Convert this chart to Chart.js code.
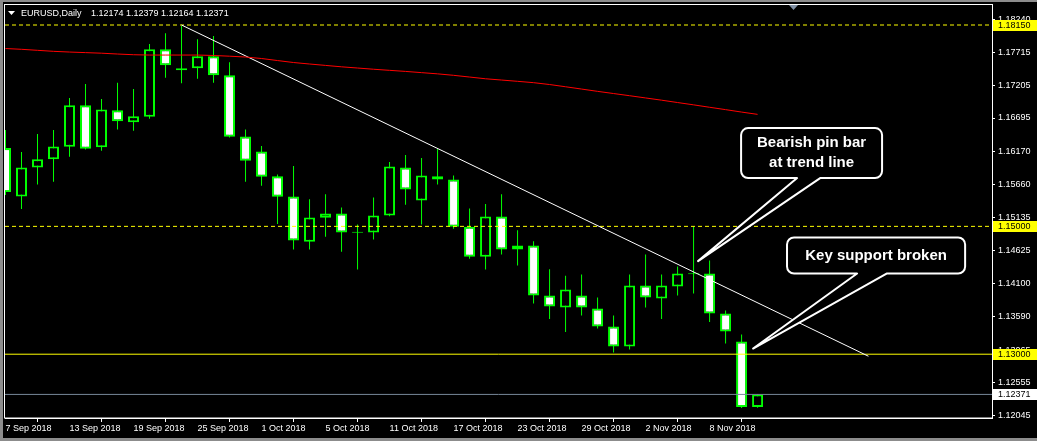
<!DOCTYPE html>
<html>
<head>
<meta charset="utf-8">
<title>EURUSD Daily</title>
<script src="https://cdn.jsdelivr.net/npm/chart.js@4.4.0/dist/chart.umd.min.js"></script>
<style>
  html, body { margin: 0; padding: 0; background: #000; }
  canvas { display: block; }
</style>
</head>
<body>
<canvas id="fx" width="1037" height="441"></canvas>
<script>
// daily candles, 7 Sep .. 13 Nov 2018
const dates = [
  '7 Sep 2018', '10 Sep 2018', '11 Sep 2018', '12 Sep 2018', '13 Sep 2018', '14 Sep 2018',
  '17 Sep 2018', '18 Sep 2018', '19 Sep 2018', '20 Sep 2018', '21 Sep 2018', '24 Sep 2018',
  '25 Sep 2018', '26 Sep 2018', '27 Sep 2018', '28 Sep 2018', '1 Oct 2018', '2 Oct 2018',
  '3 Oct 2018', '4 Oct 2018', '5 Oct 2018', '8 Oct 2018', '9 Oct 2018', '10 Oct 2018',
  '11 Oct 2018', '12 Oct 2018', '15 Oct 2018', '16 Oct 2018', '17 Oct 2018', '18 Oct 2018',
  '19 Oct 2018', '22 Oct 2018', '23 Oct 2018', '24 Oct 2018', '25 Oct 2018', '26 Oct 2018',
  '29 Oct 2018', '30 Oct 2018', '31 Oct 2018', '1 Nov 2018', '2 Nov 2018', '5 Nov 2018',
  '6 Nov 2018', '7 Nov 2018', '8 Nov 2018', '9 Nov 2018', '12 Nov 2018', '13 Nov 2018'
];
const xTickLabels = ['7 Sep 2018', '13 Sep 2018', '19 Sep 2018', '25 Sep 2018', '1 Oct 2018', '5 Oct 2018',
  '11 Oct 2018', '17 Oct 2018', '23 Oct 2018', '29 Oct 2018', '2 Nov 2018', '8 Nov 2018'];

const opens = [
  1.16225, 1.15469, 1.15922, 1.16048, 1.16245, 1.16893, 1.16236, 1.16815, 1.16627, 1.16715, 1.17770, 1.17441,
  1.17472, 1.17660, 1.17363, 1.16405, 1.16173, 1.15782, 1.15469, 1.14758, 1.15133, 1.15202, 1.14900, 1.14905,
  1.15171, 1.15922, 1.15406, 1.15782, 1.15735, 1.14993, 1.14523, 1.15155, 1.14701, 1.14701, 1.13919, 1.13731,
  1.13919, 1.13715, 1.13433, 1.13120, 1.14075, 1.13872, 1.14060, 1.14263, 1.14263, 1.13637, 1.13199, 1.12174
];
const highs = [
  1.16506, 1.16162, 1.16444, 1.16506, 1.17007, 1.17226, 1.16992, 1.17247, 1.17148, 1.17853, 1.18020, 1.18134,
  1.17926, 1.17978, 1.17566, 1.16517, 1.16256, 1.15813, 1.15943, 1.15426, 1.15504, 1.15296, 1.15030, 1.15453,
  1.16005, 1.16115, 1.16068, 1.16209, 1.15797, 1.15281, 1.15348, 1.15504, 1.14941, 1.14769, 1.14330, 1.14226,
  1.14247, 1.13887, 1.13606, 1.14247, 1.14561, 1.14247, 1.14373, 1.14999, 1.14467, 1.13684, 1.13308, 1.12379
];
const lows = [
  1.15489, 1.15270, 1.15656, 1.15697, 1.16088, 1.16204, 1.16182, 1.16517, 1.16495, 1.16683, 1.17325, 1.17237,
  1.17309, 1.17247, 1.16392, 1.15697, 1.15634, 1.15035, 1.14639, 1.14639, 1.14836, 1.14601, 1.14326, 1.14795,
  1.15160, 1.15337, 1.15030, 1.15656, 1.14961, 1.14492, 1.14326, 1.14561, 1.14388, 1.13793, 1.13552, 1.13349,
  1.13606, 1.13402, 1.13026, 1.13073, 1.13731, 1.13552, 1.13919, 1.13950, 1.13505, 1.13167, 1.12159, 1.12164
];
const closes = [
  1.15536, 1.15922, 1.16048, 1.16251, 1.16893, 1.16214, 1.16830, 1.16643, 1.16721, 1.17770, 1.17519, 1.17472,
  1.17660, 1.17363, 1.16401, 1.16026, 1.15775, 1.15462, 1.14780, 1.15140, 1.15202, 1.14905, 1.14910, 1.15171,
  1.15938, 1.15578, 1.15797, 1.15735, 1.14993, 1.14523, 1.15155, 1.14639, 1.14639, 1.13919, 1.13746, 1.14013,
  1.13731, 1.13433, 1.13120, 1.14075, 1.13887, 1.14075, 1.14263, 1.14252, 1.13637, 1.13355, 1.12175, 1.12371
];
// red moving average
const maValues = [
  1.17782, 1.17770, 1.17754, 1.17738, 1.17727, 1.17718, 1.17709, 1.17696, 1.17685, 1.17680, 1.17680, 1.17680,
  1.17680, 1.17673, 1.17662, 1.17649, 1.17626, 1.17594, 1.17563, 1.17540, 1.17518, 1.17496, 1.17477, 1.17458,
  1.17441, 1.17424, 1.17405, 1.17386, 1.17363, 1.17336, 1.17309, 1.17289, 1.17269, 1.17248, 1.17219, 1.17184,
  1.17148, 1.17112, 1.17078, 1.17044, 1.17009, 1.16974, 1.16937, 1.16901, 1.16863, 1.16826, 1.16788, 1.16752
];
const yTicks = [1.18240, 1.17715, 1.17205, 1.16695, 1.16170, 1.15660, 1.15135, 1.14625, 1.14100, 1.13590, 1.13065, 1.12555, 1.12045];
const dashedLevels = [1.18150, 1.15000];
const solidLevels = [1.13000];
const bidPrice = 1.12371;
const trendIdx = [11, 53.93];
const trendPrice = [1.18150, 1.12968];

const notes = [
  { lines: ['Bearish pin bar', 'at trend line'], left: 45.97, right: 54.78, top: 1.16538, bottom: 1.15755,
    tailL: 49.47, tailR: 50.91, tipIdx: 43.28, tipPrice: 1.14456 },
  { lines: ['Key support broken'], left: 48.84, right: 59.97, top: 1.14827, bottom: 1.14263,
    tailL: 53.22, tailR: 55.09, tipIdx: 46.72, tipPrice: 1.13089 }
];

const xMin = -0.03125, xMax = 61.65;
const yMin = 1.12002, yMax = 1.18463;

const GREEN = '#00ff00';
const FONT = "'Liberation Sans', Arial, sans-serif";

const bodies = dates.map((d, i) => ({ x: i, y: [opens[i], closes[i]] }));
const wicks = dates.map((d, i) => ({ x: i, y: [lows[i], highs[i]] }));
const levelLine = (p) => [{ x: xMin, y: p }, { x: xMax, y: p }];

function drawCallout(ctx, x, y, n) {
  const l = x.getPixelForValue(n.left), r = x.getPixelForValue(n.right);
  const t = y.getPixelForValue(n.top), b = y.getPixelForValue(n.bottom);
  const bl = x.getPixelForValue(n.tailL), br = x.getPixelForValue(n.tailR);
  const tx = x.getPixelForValue(n.tipIdx), ty = y.getPixelForValue(n.tipPrice);
  const rad = 7;
  ctx.save();
  ctx.beginPath();
  ctx.moveTo(l + rad, t);
  ctx.lineTo(r - rad, t);
  ctx.arcTo(r, t, r, t + rad, rad);
  ctx.lineTo(r, b - rad);
  ctx.arcTo(r, b, r - rad, b, rad);
  ctx.lineTo(br, b);
  ctx.lineTo(tx, ty);
  ctx.lineTo(bl, b);
  ctx.lineTo(l + rad, b);
  ctx.arcTo(l, b, l, b - rad, rad);
  ctx.lineTo(l, t + rad);
  ctx.arcTo(l, t, l + rad, t, rad);
  ctx.closePath();
  ctx.fillStyle = '#000';
  ctx.fill();
  ctx.lineWidth = 2;
  ctx.strokeStyle = '#fff';
  ctx.lineJoin = 'round';
  ctx.stroke();
  ctx.fillStyle = '#fff';
  ctx.font = 'bold 15px ' + FONT;
  ctx.textAlign = 'center';
  ctx.textBaseline = 'middle';
  const cx = (l + r) / 2, cy = (t + b) / 2, gap = 19.5;
  n.lines.forEach((s, k) => {
    ctx.fillText(s, cx, cy + (k - (n.lines.length - 1) / 2) * gap);
  });
  ctx.restore();
}

function priceTag(ctx, y, price, bg) {
  const py = Math.round(y.getPixelForValue(price));
  ctx.fillStyle = bg;
  ctx.fillRect(993, py - 5, 44, 11);
  ctx.fillStyle = '#000';
  ctx.font = '9px ' + FONT;
  ctx.textAlign = 'left';
  ctx.textBaseline = 'middle';
  ctx.fillText(price.toFixed(5), 998, py + 0.5);
}

const mt4Frame = {
  id: 'mt4Frame',
  beforeDraw(chart) {
    const ctx = chart.ctx;
    ctx.save();
    ctx.fillStyle = '#000';
    ctx.fillRect(0, 0, chart.width, chart.height);
    ctx.restore();
  },
  afterDraw(chart) {
    const { ctx, chartArea: a, scales: { x, y } } = chart;
    ctx.save();
    // plot frame
    ctx.strokeStyle = '#fff';
    ctx.lineWidth = 1;
    ctx.strokeRect(a.left - 0.5, a.top - 0.5, a.right - a.left + 1, a.bottom - a.top + 0.5);
    // window edges
    ctx.fillStyle = '#8c8c8c';
    ctx.fillRect(0, 0, 3, chart.height);
    ctx.fillRect(0, 0, chart.width, 2);
    ctx.fillRect(0, chart.height - 3, chart.width, 3);
    // chart shift marker
    ctx.fillStyle = '#7f8fa3';
    ctx.beginPath();
    ctx.moveTo(789, 5); ctx.lineTo(798, 5); ctx.lineTo(793.5, 10);
    ctx.closePath(); ctx.fill();
    // price tags on the axis
    dashedLevels.concat(solidLevels).forEach(p => priceTag(ctx, y, p, '#ffff00'));
    priceTag(ctx, y, bidPrice, '#ffffff');
    // callouts
    notes.forEach(n => drawCallout(ctx, x, y, n));
    // title
    ctx.fillStyle = '#fff';
    ctx.beginPath();
    ctx.moveTo(8, 11); ctx.lineTo(15, 11); ctx.lineTo(11.5, 15);
    ctx.closePath(); ctx.fill();
    ctx.font = '9px ' + FONT;
    ctx.textBaseline = 'middle';
    ctx.textAlign = 'left';
    ctx.fillText('EURUSD,Daily', 21, 13.5);
    ctx.fillText([opens[47], highs[47], lows[47], closes[47]].map(v => v.toFixed(5)).join(' '), 91, 13.5);
    ctx.restore();
  }
};

const ctx = document.getElementById('fx').getContext('2d');
new Chart(ctx, {
  type: 'bar',
  data: {
    datasets: [
      {
        label: 'bodies',
        data: bodies,
        order: 2,
        grouped: false,
        barThickness: 11,
        minBarLength: 1,
        borderWidth: 2,
        borderSkipped: false,
        inflateAmount: 0,
        borderColor: GREEN,
        backgroundColor: bodies.map((b, i) => closes[i] < opens[i] ? '#ffffff' : '#000000')
      },
      {
        label: 'wicks',
        data: wicks,
        order: 3,
        grouped: false,
        barThickness: 1,
        borderWidth: 0,
        inflateAmount: 0,
        backgroundColor: GREEN
      },
      {
        type: 'line', label: 'MA', order: 1,
        data: maValues.map((v, i) => ({ x: i, y: v })),
        borderColor: '#ff0000', borderWidth: 1, pointRadius: 0, tension: 0
      },
      {
        type: 'line', label: 'trend', order: 1,
        data: trendIdx.map((v, i) => ({ x: v, y: trendPrice[i] })),
        borderColor: '#ffffff', borderWidth: 1, pointRadius: 0
      },
      ...dashedLevels.map(p => ({
        type: 'line', label: 'level ' + p, order: 1, data: levelLine(p),
        borderColor: '#ffff00', borderWidth: 1, borderDash: [4, 3], pointRadius: 0
      })),
      ...solidLevels.map(p => ({
        type: 'line', label: 'level ' + p, order: 1, data: levelLine(p),
        borderColor: '#ffff00', borderWidth: 1, pointRadius: 0
      })),
      {
        type: 'line', label: 'bid', order: 1, data: levelLine(bidPrice),
        borderColor: '#778899', borderWidth: 1, pointRadius: 0
      }
    ]
  },
  options: {
    responsive: false,
    animation: false,
    devicePixelRatio: 1,
    layout: { padding: { left: 5, top: 5, right: 0, bottom: 0 } },
    plugins: { legend: { display: false }, tooltip: { enabled: false } },
    scales: {
      x: {
        type: 'linear',
        position: 'bottom',
        offset: false,
        min: xMin,
        max: xMax,
        afterBuildTicks: s => { s.ticks = xTickLabels.map(l => ({ value: dates.indexOf(l) })); },
        afterFit: s => { s.height = 23; s.paddingLeft = 0; s.paddingRight = 0; },
        ticks: {
          autoSkip: false, maxRotation: 0, align: 'start', padding: 1,
          color: '#ffffff', font: { family: FONT, size: 9 },
          callback: v => dates[v]
        },
        grid: { drawOnChartArea: false, color: '#ffffff', tickLength: 4 },
        border: { color: '#ffffff' }
      },
      y: {
        type: 'linear',
        position: 'right',
        min: yMin,
        max: yMax,
        afterBuildTicks: s => { s.ticks = yTicks.map(v => ({ value: v })); },
        afterFit: s => { s.width = 45; s.paddingTop = 0; s.paddingBottom = 0; },
        ticks: {
          padding: 3, color: '#ffffff', font: { family: FONT, size: 9 },
          callback: v => v.toFixed(5)
        },
        grid: { drawOnChartArea: false, color: '#ffffff', tickLength: 3 },
        border: { color: '#ffffff' }
      }
    }
  },
  plugins: [mt4Frame]
});
</script>
</body>
</html>
